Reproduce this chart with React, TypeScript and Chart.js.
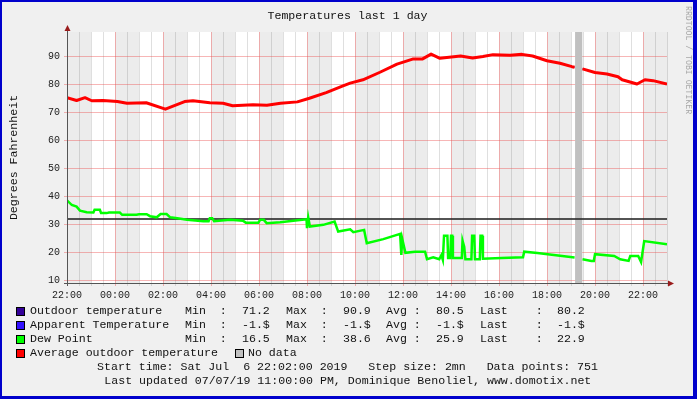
import React, { useEffect, useRef } from "react";
import { Chart, registerables } from "chart.js";

Chart.register(...registerables);

const FONT = "'Liberation Mono', 'DejaVu Sans Mono', monospace";

// ---------- data ----------
const START_CLOCK_HOUR = 22; // x = 0 is 22:00 on Jul 6
const X_SPAN_HOURS = 25;

// hours since 22:00
const tempHours = [
  0, 0.4, 0.75, 1.03, 1.5, 2.1, 2.5, 3.3, 4.1, 4.9, 5.25, 5.95, 6.5, 6.9, 7.75,
  8.33, 8.9, 9.6, 10.1, 10.8, 11.5, 11.8, 12.33, 13.04, 13.75, 14.4, 14.8,
  15.17, 15.54, 16.4, 16.9, 17.33, 17.75, 18.46, 18.96, 19.4, 20.0, 20.54,
  21.04, 21.15, 21.3, 21.48, 22.0, 22.5, 22.96, 23.13, 23.75, 24.08, 24.42, 25.0,
];
const outdoorTemp = [
  75.3, 74.3, 75.3, 74.2, 74.3, 73.9, 73.3, 73.5, 71.2, 73.9, 74.2, 73.5, 73.3,
  72.4, 72.8, 72.6, 73.3, 73.8, 75.1, 77.1, 79.5, 80.5, 81.7, 84.4, 87.3, 89.1,
  89.1, 90.9, 89.4, 90.2, 89.5, 90.0, 90.7, 90.5, 90.8, 90.2, 88.5, 87.6, 86.4,
  86.2, null, 85.6, 84.3, 83.8, 82.8, 81.7, 80.2, 81.7, 81.4, 80.2,
];

const dewHours = [
  0, 0.2, 0.4, 0.54, 0.82, 1.1, 1.15, 1.37, 1.42, 1.65, 1.75, 2.2, 2.3, 2.9, 3.0,
  3.32, 3.46, 3.74, 3.9, 4.15, 4.3, 4.6, 5.0, 5.68, 5.9, 5.95, 6.05, 6.13, 6.8,
  7.33, 7.45, 7.97, 8.05, 8.2, 8.32, 8.88, 9.43, 9.98, 10.0, 10.05, 10.12, 10.68,
  11.15, 11.3, 11.8, 11.93, 12.38, 12.49, 13.18, 13.88, 13.93, 13.97, 14.1, 14.5,
  14.92, 15.0, 15.26, 15.51, 15.6, 15.66, 15.71, 15.85, 15.88, 15.97, 16.0, 16.05,
  16.08, 16.45, 16.48, 16.55, 16.6, 16.85, 16.88, 16.97, 17.0, 17.2, 17.23, 17.3,
  17.33, 18.1, 19.0, 19.05, 19.6, 21.15, 21.3, 21.48, 21.85, 21.95, 22.0, 22.8,
  23.05, 23.4, 23.47, 23.8, 23.92, 24.05, 25.0,
];
const dewPoint = [
  38.6, 36.9, 36.3, 34.9, 34.3, 34.2, 35.2, 35.2, 34.0, 34.0, 34.2, 34.2, 33.4,
  33.4, 33.6, 33.6, 32.9, 32.5, 33.7, 33.7, 32.5, 32.2, 31.6, 31.1, 31.1, 32.2,
  32.2, 31.1, 31.6, 31.3, 30.6, 30.6, 31.6, 31.6, 30.4, 30.7, 31.3, 31.8, 28.6,
  32.5, 29.2, 29.8, 31.0, 27.4, 28.2, 27.2, 28.0, 23.2, 24.7, 26.6, 19.0, 24.7,
  19.8, 20.2, 20.2, 17.5, 18.2, 17.5, 19.0, 17.3, 25.9, 25.9, 17.9, 17.9, 25.9,
  25.9, 17.9, 17.9, 24.2, 22.0, 17.5, 17.5, 25.9, 25.9, 17.5, 17.5, 25.9, 25.9,
  17.7, 17.9, 18.2, 20.2, 19.7, 18.1, null, 17.5, 16.9, 16.9, 19.3, 18.7, 17.5,
  16.9, 18.7, 18.7, 16.5, 24.0, 22.9,
];

const noDataRanges = [[21.17, 21.47]];
const freezeLevel = 32;

const Y_MIN = 9;
const Y_MAX = 98.8;
const yGridValues = [10, 15, 20, 25, 30, 35, 40, 45, 50, 55, 60, 65, 70, 75, 80, 85, 90, 95];
const xGridHours = Array.from({ length: 51 }, (_, i) => i * 0.5);

const seriesNames = ["Outdoor temperature", "Apparent Temperature", "Dew Point", "Average outdoor temperature"];
const seriesColors = ["#330099", "#3311ff", "#00ff00", "#ff0000"];
const outdoorStats = ["71.2", "90.9", "80.5", "80.2"];
const apparentStats = ["-1.$", "-1.$", "-1.$", "-1.$"];
const dewStats = ["16.5", "38.6", "25.9", "22.9"];
const statLabels = ["Min  :", "Max  :", "Avg :", "Last    :"];

const titleText = "Temperatures last 1 day";
const yTitle = "Degrees Fahrenheit";
const noDataLabel = "No data";
const footer1 = "Start time: Sat Jul  6 22:02:00 2019   Step size: 2mn   Data points: 751";
const footer2 = "Last updated 07/07/19 11:00:00 PM, Dominique Benoliel, www.domotix.net";
const watermark = "RRDTOOL / TOBI OETIKER";

// ---------- layout (positions, not data) ----------
const W = 697;
const H = 399;
const statCols = [[185, 242], [286, 343], [386, 436], [480, 557]];

const clockLabel = (h: number) => {
  const c = (START_CLOCK_HOUR + h) % 24;
  return String(c).padStart(2, "0") + ":00";
};
const isMajorHour = (h: number) => Number.isInteger(h) && (START_CLOCK_HOUR + h) % 2 === 0;

const RED_GRID = "rgba(235, 80, 80, 0.42)";
const GREY_GRID = "rgba(110, 110, 110, 0.22)";

const rrdPlugin = {
  id: "rrdDecor",
  beforeDraw(chart: any) {
    const { ctx, chartArea: a, scales } = chart;
    const x = scales.x;
    ctx.save();
    ctx.fillStyle = "#ffffff";
    ctx.fillRect(a.left, a.top, a.right - a.left, a.bottom - a.top);
    ctx.fillStyle = "#ececec";
    for (let h = 0; h < X_SPAN_HOURS; h++) {
      if ((START_CLOCK_HOUR + h) % 2 === 0) {
        const x0 = x.getPixelForValue(h);
        const x1 = x.getPixelForValue(h + 1);
        ctx.fillRect(x0, a.top, x1 - x0, a.bottom - a.top);
      }
    }
    ctx.restore();
  },
  beforeDatasetsDraw(chart: any) {
    const { ctx, chartArea: a, scales } = chart;
    const x = scales.x;
    const y = scales.y;
    ctx.save();
    ctx.fillStyle = "#c0c0c0";
    for (const [s, e] of noDataRanges) {
      const x0 = x.getPixelForValue(s);
      const x1 = x.getPixelForValue(e);
      ctx.fillRect(x0, a.top, x1 - x0, a.bottom - a.top);
    }
    const yy = Math.round(y.getPixelForValue(freezeLevel));
    ctx.strokeStyle = "rgba(40,40,40,0.8)";
    ctx.lineWidth = 2;
    ctx.beginPath();
    ctx.moveTo(a.left, yy);
    ctx.lineTo(a.right, yy);
    ctx.stroke();
    ctx.restore();
  },
  afterDraw(chart: any) {
    const { ctx, chartArea: a } = chart;
    ctx.save();
    ctx.strokeStyle = "#555555";
    ctx.lineWidth = 1;
    ctx.beginPath();
    ctx.moveTo(a.left + 0.5, a.bottom + 3);
    ctx.lineTo(a.left + 0.5, a.top - 4);
    ctx.moveTo(a.left - 3, a.bottom + 0.5);
    ctx.lineTo(a.right + 3, a.bottom + 0.5);
    ctx.stroke();
    ctx.fillStyle = "#9a1c1c";
    ctx.beginPath();
    ctx.moveTo(a.left + 0.5, a.top - 7);
    ctx.lineTo(a.left - 2.5, a.top - 1);
    ctx.lineTo(a.left + 3.5, a.top - 1);
    ctx.closePath();
    ctx.fill();
    ctx.beginPath();
    ctx.moveTo(a.right + 7, a.bottom + 0.5);
    ctx.lineTo(a.right + 1, a.bottom - 2.5);
    ctx.lineTo(a.right + 1, a.bottom + 3.5);
    ctx.closePath();
    ctx.fill();
    ctx.restore();
  },
};

const Txt = ({ x, base, size = 11.6, color = "#111", children }: any) => (
  <div
    style={{
      position: "absolute",
      left: x,
      top: base - (7 + 0.266 * size),
      fontFamily: FONT,
      fontSize: size,
      lineHeight: "14px",
      whiteSpace: "pre",
      color,
    }}
  >
    {children}
  </div>
);

const CenterTxt = ({ base, center, size = 11.6, children }: any) => (
  <div
    style={{
      position: "absolute",
      left: 0,
      width: center * 2,
      textAlign: "center",
      top: base - (7 + 0.266 * size),
      fontFamily: FONT,
      fontSize: size,
      lineHeight: "14px",
      whiteSpace: "pre",
      color: "#111",
    }}
  >
    {children}
  </div>
);

const Swatch = ({ x, top, color }: any) => (
  <div
    style={{
      position: "absolute",
      left: x,
      top,
      width: 9,
      height: 9,
      boxSizing: "border-box",
      border: "1px solid #000",
      background: color,
    }}
  />
);

export default function App() {
  const canvasRef = useRef<HTMLCanvasElement | null>(null);

  useEffect(() => {
    const canvas = canvasRef.current;
    if (!canvas) return;
    const pts = (xs: number[], ys: (number | null)[]) => xs.map((h, i) => ({ x: h, y: ys[i] }));
    const chart = new Chart(canvas, {
      type: "line",
      data: {
        datasets: [
          {
            label: seriesNames[3],
            data: pts(tempHours, outdoorTemp) as any,
            borderColor: seriesColors[3],
            borderWidth: 3,
            pointRadius: 0,
            tension: 0,
            spanGaps: false,
            borderJoinStyle: "round",
          },
          {
            label: seriesNames[0],
            data: pts(tempHours, outdoorTemp) as any,
            borderColor: seriesColors[0],
            borderWidth: 1,
            pointRadius: 0,
            tension: 0,
            spanGaps: false,
          },
          {
            label: seriesNames[2],
            data: pts(dewHours, dewPoint) as any,
            borderColor: seriesColors[2],
            borderWidth: 2.5,
            pointRadius: 0,
            tension: 0,
            spanGaps: false,
            borderJoinStyle: "miter",
          },
        ],
      },
      options: {
        animation: false,
        responsive: false,
        devicePixelRatio: 1,
        layout: { padding: { left: 0, top: 32, right: 30, bottom: 0 } },
        plugins: {
          legend: { display: false },
          title: { display: false },
          tooltip: { enabled: false },
        },
        scales: {
          x: {
            type: "linear",
            min: 0,
            max: X_SPAN_HOURS,
            afterBuildTicks: (s: any) => {
              s.ticks = xGridHours.map((v) => ({ value: v }));
            },
            afterFit: (s: any) => {
              s.height = 116;
            },
            ticks: {
              autoSkip: false,
              maxRotation: 0,
              minRotation: 0,
              padding: 3,
              color: "#222",
              font: { family: FONT, size: 10 },
              callback: (v: any) => (isMajorHour(Number(v)) ? clockLabel(Number(v)) : ""),
            },
            grid: {
              color: (c: any) => (c.tick && isMajorHour(c.tick.value) ? RED_GRID : GREY_GRID),
              tickLength: 3,
              lineWidth: 1,
            },
            border: { display: false },
          },
          y: {
            type: "linear",
            min: Y_MIN,
            max: Y_MAX,
            afterBuildTicks: (s: any) => {
              s.ticks = yGridValues.map((v) => ({ value: v }));
            },
            afterFit: (s: any) => {
              s.width = 67;
            },
            ticks: {
              padding: 4,
              color: "#222",
              font: { family: FONT, size: 10 },
              callback: (v: any) => (Number(v) % 10 === 0 ? String(v) : ""),
            },
            grid: {
              color: (c: any) => (c.tick && c.tick.value % 10 === 0 ? RED_GRID : GREY_GRID),
              tickLength: 3,
              lineWidth: 1,
            },
            border: { display: false },
            title: {
              display: true,
              text: yTitle,
              color: "#111",
              font: { family: FONT, size: 11.6 },
              padding: { top: 7, bottom: 0 },
            },
          },
        },
      },
      plugins: [rrdPlugin],
    });
    return () => chart.destroy();
  }, []);

  const statRows = [outdoorStats, apparentStats, dewStats];

  return (
    <div style={{ position: "absolute", left: 0, top: 0, width: W, height: H, background: "#0000cc", overflow: "hidden" }}>
      <div style={{ position: "absolute", left: 2, top: 2, width: W - 6, height: H - 5, background: "#f0f0f0" }} />
      <canvas ref={canvasRef} width={W} height={H} style={{ position: "absolute", left: 0, top: 0, width: W, height: H }} />
      <CenterTxt base={19.5} center={347.5}>{titleText}</CenterTxt>
      <div
        style={{
          position: "absolute",
          left: 683.5,
          top: 6,
          writingMode: "vertical-rl",
          fontFamily: FONT,
          fontSize: 8.2,
          lineHeight: "8px",
          color: "#a8a8a8",
          whiteSpace: "pre",
        }}
      >
        {watermark}
      </div>
      {statRows.map((stats, r) => (
        <React.Fragment key={r}>
          <Swatch x={16} top={307 + r * 14} color={seriesColors[r]} />
          <Txt x={30} base={314 + r * 14}>{seriesNames[r]}</Txt>
          {stats.map((s, k) => (
            <React.Fragment key={k}>
              <Txt x={statCols[k][0]} base={314 + r * 14}>{statLabels[k]}</Txt>
              <Txt x={statCols[k][1]} base={314 + r * 14}>{s}</Txt>
            </React.Fragment>
          ))}
        </React.Fragment>
      ))}
      <Swatch x={16} top={307 + 3 * 14} color={seriesColors[3]} />
      <Txt x={30} base={314 + 3 * 14}>{seriesNames[3]}</Txt>
      <Swatch x={235} top={307 + 3 * 14} color="#c0c0c0" />
      <Txt x={248} base={314 + 3 * 14}>{noDataLabel}</Txt>
      <CenterTxt base={370} center={347.5}>{footer1}</CenterTxt>
      <CenterTxt base={384.5} center={347.8}>{footer2}</CenterTxt>
    </div>
  );
}
